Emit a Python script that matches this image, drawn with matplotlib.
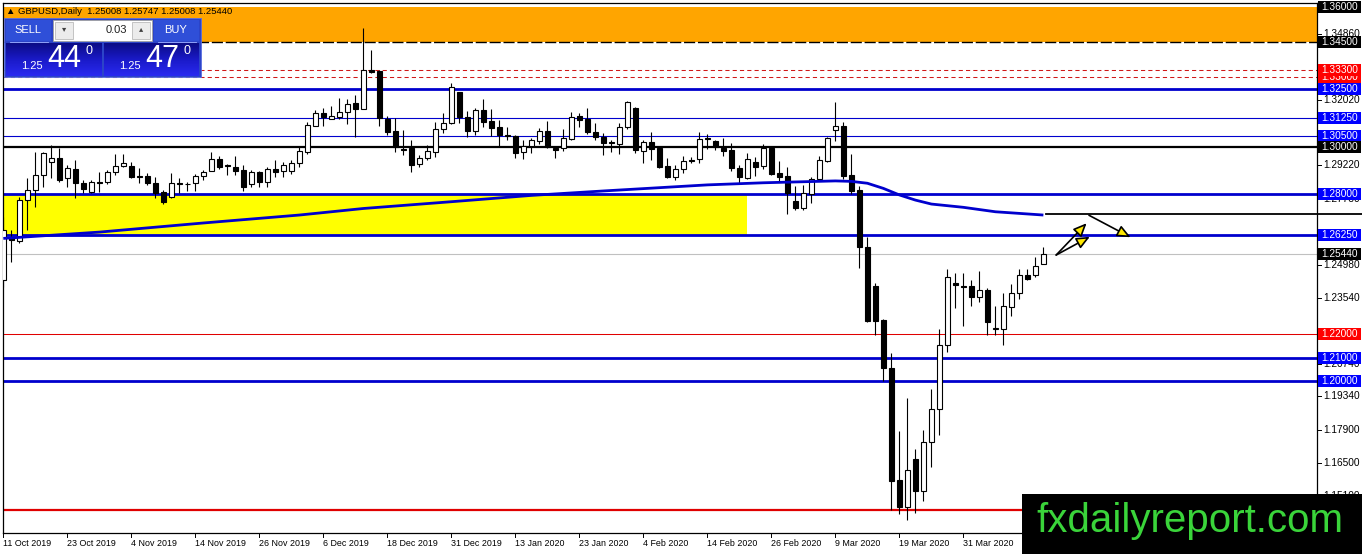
import numpy as np
import matplotlib
matplotlib.use("Agg")
import matplotlib.pyplot as plt
from matplotlib.patches import Rectangle
from matplotlib.colors import LinearSegmentedColormap
import matplotlib.transforms as mtransforms

plt.rcParams['font.family'] = ['Liberation Sans', 'DejaVu Sans']

# daily GBPUSD candles, 11 Oct 2019 .. mid Apr 2020
opens = [1.2432, 1.2618, 1.2597, 1.2774, 1.2817, 1.2881, 1.2937, 1.2954, 1.2868, 1.2907,
         1.2847, 1.2809, 1.2853, 1.2851, 1.2894, 1.2920, 1.2920, 1.2875, 1.2877, 1.2848,
         1.2810, 1.2787, 1.2845, 1.2843, 1.2847, 1.2879, 1.2900, 1.2950, 1.2922, 1.2917,
         1.2903, 1.2841, 1.2893, 1.2853, 1.2909, 1.2900, 1.2900, 1.2933, 1.2981, 1.3092,
         1.3147, 1.3122, 1.3131, 1.3150, 1.3189, 1.3162, 1.3330, 1.3326, 1.3121, 1.3071,
         1.2993, 1.2996, 1.2927, 1.2953, 1.2981, 1.3078, 1.3104, 1.3236, 1.3128, 1.3071,
         1.3159, 1.3112, 1.3088, 1.3054, 1.3048, 1.2978, 1.3005, 1.3028, 1.3070, 1.2995,
         1.2996, 1.3035, 1.3134, 1.3120, 1.3064, 1.3045, 1.3022, 1.3013, 1.3087, 1.3167,
         1.2985, 1.3024, 1.2996, 1.2920, 1.2874, 1.2906, 1.2947, 1.2948, 1.3040, 1.3027,
         1.2996, 1.2988, 1.2910, 1.2870, 1.2936, 1.2920, 1.2995, 1.2888, 1.2877, 1.2770,
         1.2741, 1.2800, 1.2863, 1.2942, 1.3074, 1.3091, 1.2881, 1.2817, 1.2575, 1.2406,
         1.2261, 1.2054, 1.1576, 1.1460, 1.1665, 1.1531, 1.1738, 1.1879, 1.2154, 1.2421,
         1.2407, 1.2406, 1.2361, 1.2389, 1.2224, 1.2221, 1.2318, 1.2375, 1.2453, 1.2455,
         1.25008]
highs = [1.2703, 1.2646, 1.2788, 1.2868, 1.2980, 1.2980, 1.3010, 1.2997, 1.2924, 1.2945,
         1.2860, 1.2860, 1.2894, 1.2903, 1.2971, 1.2971, 1.2937, 1.2911, 1.2891, 1.2874,
         1.2817, 1.2890, 1.2868, 1.2853, 1.2886, 1.2903, 1.2980, 1.2963, 1.2928, 1.2963,
         1.2924, 1.2903, 1.2900, 1.2916, 1.2945, 1.2938, 1.2945, 1.3005, 1.3109, 1.3159,
         1.3167, 1.3176, 1.3211, 1.3205, 1.3224, 1.3510, 1.3416, 1.3330, 1.3134, 1.3124,
         1.3074, 1.3031, 1.2967, 1.3010, 1.3109, 1.3147, 1.3276, 1.3238, 1.3156, 1.3167,
         1.3205, 1.3162, 1.3117, 1.3088, 1.3052, 1.3031, 1.3038, 1.3081, 1.3114, 1.3007,
         1.3077, 1.3150, 1.3148, 1.3167, 1.3105, 1.3062, 1.3031, 1.3102, 1.3199, 1.3171,
         1.3031, 1.3064, 1.3002, 1.2953, 1.2924, 1.2963, 1.2957, 1.3066, 1.3057, 1.3031,
         1.3041, 1.3017, 1.2924, 1.2974, 1.2960, 1.3014, 1.2999, 1.2942, 1.2914, 1.2834,
         1.2838, 1.2871, 1.2963, 1.3045, 1.3194, 1.3107, 1.2971, 1.2834, 1.2617, 1.2421,
         1.2264, 1.2121, 1.1787, 1.1926, 1.1708, 1.1790, 1.1964, 1.2221, 1.2478, 1.2461,
         1.2463, 1.2432, 1.2472, 1.2397, 1.2321, 1.2375, 1.2415, 1.2479, 1.2479, 1.2529,
         1.25747]
lows = [1.2403, 1.2509, 1.2589, 1.2646, 1.2744, 1.2830, 1.2868, 1.2851, 1.2830, 1.2783,
        1.2804, 1.2804, 1.2809, 1.2843, 1.2881, 1.2917, 1.2868, 1.2847, 1.2838, 1.2783,
        1.2757, 1.2782, 1.2804, 1.2814, 1.2814, 1.2860, 1.2900, 1.2907, 1.2880, 1.2881,
        1.2814, 1.2831, 1.2830, 1.2831, 1.2874, 1.2871, 1.2886, 1.2917, 1.2971, 1.3091,
        1.3091, 1.3120, 1.3121, 1.3099, 1.3044, 1.3162, 1.3316, 1.3091, 1.3052, 1.2980,
        1.2967, 1.2894, 1.2914, 1.2945, 1.2960, 1.3061, 1.3100, 1.3104, 1.3045, 1.3052,
        1.3088, 1.3048, 1.3000, 1.3031, 1.2954, 1.2949, 1.2977, 1.3014, 1.2996, 1.2953,
        1.2986, 1.3031, 1.3088, 1.3057, 1.3031, 1.2967, 1.2981, 1.2971, 1.3078, 1.2974,
        1.2934, 1.2945, 1.2910, 1.2868, 1.2860, 1.2889, 1.2934, 1.2934, 1.2991, 1.2988,
        1.2964, 1.2900, 1.2848, 1.2863, 1.2878, 1.2906, 1.2881, 1.2853, 1.2714, 1.2732,
        1.2732, 1.2763, 1.2857, 1.2938, 1.3028, 1.2863, 1.2800, 1.2483, 1.2251, 1.2197,
        1.2001, 1.1448, 1.1431, 1.1405, 1.1437, 1.1488, 1.1631, 1.1769, 1.2125, 1.2311,
        1.2235, 1.2321, 1.2339, 1.2197, 1.2197, 1.2154, 1.2278, 1.2351, 1.2432, 1.2446,
        1.25008]
closes = [1.2646, 1.2605, 1.2774, 1.2817, 1.2881, 1.2975, 1.2954, 1.2860, 1.2911, 1.2847,
          1.2821, 1.2851, 1.2849, 1.2894, 1.2920, 1.2933, 1.2873, 1.2871, 1.2848, 1.2804,
          1.2766, 1.2847, 1.2841, 1.2841, 1.2879, 1.2894, 1.2950, 1.2916, 1.2918, 1.2900,
          1.2830, 1.2893, 1.2853, 1.2907, 1.2895, 1.2924, 1.2933, 1.2984, 1.3095, 1.3147,
          1.3129, 1.3134, 1.3150, 1.3185, 1.3164, 1.3330, 1.3323, 1.3125, 1.3065, 1.3000,
          1.2989, 1.2924, 1.2953, 1.2984, 1.3078, 1.3104, 1.3258, 1.3129, 1.3071, 1.3159,
          1.3109, 1.3081, 1.3052, 1.3050, 1.2976, 1.3006, 1.3031, 1.3071, 1.3000, 1.2990,
          1.3040, 1.3129, 1.3117, 1.3065, 1.3043, 1.3018, 1.3018, 1.3087, 1.3194, 1.2988,
          1.3021, 1.2992, 1.2916, 1.2873, 1.2906, 1.2941, 1.2943, 1.3034, 1.3036, 1.3002,
          1.2985, 1.2912, 1.2871, 1.2950, 1.2917, 1.2995, 1.2886, 1.2874, 1.2804, 1.2740,
          1.2804, 1.2864, 1.2945, 1.3040, 1.3091, 1.2877, 1.2813, 1.2573, 1.2257, 1.2258,
          1.2054, 1.1573, 1.1460, 1.1619, 1.1531, 1.1738, 1.1879, 1.2154, 1.2444, 1.2411,
          1.2403, 1.2361, 1.2389, 1.2254, 1.2226, 1.2321, 1.2375, 1.2453, 1.2436, 1.2492,
          1.25440]

date_labels = ["11 Oct 2019", "23 Oct 2019", "4 Nov 2019", "14 Nov 2019", "26 Nov 2019",
               "6 Dec 2019", "18 Dec 2019", "31 Dec 2019", "13 Jan 2020", "23 Jan 2020",
               "4 Feb 2020", "14 Feb 2020", "26 Feb 2020", "9 Mar 2020", "19 Mar 2020",
               "31 Mar 2020"]
bars_per_label = 8

# moving average at some bars
ma_bars = [0, 12, 25, 37, 45, 56, 66, 75, 88, 95, 104, 106, 108, 110, 112, 114, 116, 120, 124, 130]
ma_values = [1.2610, 1.2637, 1.2676, 1.2710, 1.2738, 1.2767, 1.2794, 1.2813, 1.2839, 1.2848,
             1.2856, 1.2854, 1.2846, 1.2824, 1.2796, 1.2774, 1.2757, 1.2743, 1.2724, 1.2710]

# levels
blue_thick = [1.3250, 1.2800, 1.2625, 1.2100, 1.2000]
blue_thin = [1.3125, 1.3050]
red_dashed = [1.3330, 1.3300]
red_thin = [1.2200]
red_thick = [1.1450]
black_level = [1.3000]
bid_price = 1.25440
orange_zone = (1.3450, 1.3600)
yellow_zone = (1.2625, 1.2800)
yellow_zone_end = 92.9
ray_price = 1.2714
ray_start = 130.3

# visible scale labels (the others sit under the level boxes)
price_ticks = [1.34860, 1.32020, 1.29220, 1.27780, 1.24980, 1.23540, 1.20740,
               1.19340, 1.17900, 1.16500, 1.15100]
box_prices = [1.36000, 1.34500, 1.33000, 1.33300, 1.32500, 1.31250, 1.30500, 1.30000,
              1.28000, 1.26250, 1.25440, 1.22000, 1.21000, 1.20000]
box_colors = ['black', 'black', 'red', 'red', 'blue', 'blue', 'blue', 'black',
              'blue', 'blue', 'black', 'red', 'blue', 'blue']

arrows = [((131.6, 1.2539), (135.4, 1.2675)),
          ((131.6, 1.2539), (135.8, 1.2617)),
          ((135.7, 1.2709), (140.9, 1.2615))]

W, H = 1362, 554
fig = plt.figure(figsize=(W / 100, H / 100), dpi=100)
fig.patch.set_facecolor('white')
ax = fig.add_axes([3 / W, (H - 533) / H, 1314 / W, 530 / H])
ax.set_xlim(-0.04, 164.2)
ax.set_ylim(1.134973, 1.361711)
ax.set_xticks([])
ax.set_yticks([])
for s in ax.spines.values():
    s.set_color('black')
    s.set_linewidth(0.9)

BLUE = '#0000cd'
n = len(opens)
idx = np.arange(n)
o = np.array(opens); h = np.array(highs); l = np.array(lows); c = np.array(closes)

# zones
ax.axhspan(orange_zone[0], orange_zone[1], color='#ffa500', zorder=0, lw=0)
ax.axhline(orange_zone[0], color='black', lw=1.0, dashes=(8, 2), zorder=1)
ax.add_patch(Rectangle((-1, yellow_zone[0]), yellow_zone_end + 1, yellow_zone[1] - yellow_zone[0],
                       color='#ffff00', lw=0, zorder=0))

# horizontal lines
for p in blue_thick:
    ax.axhline(p, color=BLUE, lw=2.0, zorder=1)
for p in blue_thin:
    ax.axhline(p, color=BLUE, lw=0.8, zorder=1)
for p in red_dashed:
    ax.axhline(p, color='#d01818', lw=0.75, dashes=(4, 3), zorder=1)
for p in red_thin:
    ax.axhline(p, color='#e00000', lw=0.75, zorder=1)
for p in red_thick:
    ax.axhline(p, color='#e00000', lw=1.6, zorder=1)
for p in black_level:
    ax.axhline(p, color='black', lw=1.6, zorder=1)
ax.axhline(bid_price, color='#c0c0c0', lw=0.8, zorder=1)

# candles
up = c >= o
ax.vlines(idx, l, h, color='black', lw=0.8, zorder=2)
body_lo = np.minimum(o, c)
body_h = np.maximum(np.abs(c - o), 0.00006)
ax.bar(idx[up], body_h[up], bottom=body_lo[up], width=0.6, color='white',
       edgecolor='black', linewidth=0.8, zorder=3)
ax.bar(idx[~up], body_h[~up], bottom=body_lo[~up], width=0.6, color='black',
       edgecolor='black', linewidth=0.8, zorder=3)

# moving average
ax.plot(ma_bars, ma_values, color=BLUE, lw=2.0, zorder=4, solid_capstyle='butt')

# ray to the right edge
x_fig_right = ax.transData.inverted().transform(fig.transFigure.transform((1, 0)))[0]
ax.plot([ray_start, x_fig_right], [ray_price, ray_price], color='black', lw=1.3,
        clip_on=False, zorder=5)

for start, end in arrows:
    ax.annotate('', xy=end, xytext=start,
                arrowprops=dict(arrowstyle='-|>,head_length=0.8,head_width=0.35',
                                fc='#ffe800', ec='black', lw=1.2, shrinkA=0, shrinkB=0),
                zorder=5)

# price axis
ytr = mtransforms.blended_transform_factory(ax.transAxes, ax.transData)
ppx = (ax.get_ylim()[1] - ax.get_ylim()[0]) / 530.0
for p in price_ticks:
    ax.plot([1.0, 1.0 + 4 / 1314], [p, p], color='black', lw=0.7, transform=ytr, clip_on=False)
    ax.text(1.0 + 6 / 1314, p, f"{p:.5f}", transform=ytr, fontsize=7.3, ha='left',
            va='center', color='black', clip_on=False)
for k, (p, col) in enumerate(zip(box_prices, box_colors)):
    fc = {'black': 'black', 'red': '#ff0000', 'blue': '#0000ff'}[col]
    ax.add_patch(Rectangle((1.0 + 1 / 1314, p - 6 * ppx), 43 / 1314, 12 * ppx, transform=ytr,
                           facecolor=fc, edgecolor='none', clip_on=False, zorder=6 + 2 * k))
    ax.text(1.0 + 4 / 1314, p, f"{p:.5f}", transform=ytr, fontsize=7.3, ha='left',
            va='center', color='white', clip_on=False, zorder=7 + 2 * k)

# date axis
xtr = mtransforms.blended_transform_factory(ax.transData, ax.transAxes)
for k, lab in enumerate(date_labels):
    x = k * bars_per_label
    ax.plot([x, x], [0, -4 / 530], color='black', lw=0.7, transform=xtr, clip_on=False)
    ax.text(x, -10 / 530, lab, transform=xtr, fontsize=6.4, ha='left', va='center',
            clip_on=False)


def px_rect(x, y, w, hh, **kw):
    fig.add_artist(Rectangle((x / W, 1 - (y + hh) / H), w / W, hh / H,
                             transform=fig.transFigure, **kw))


def px_text(x, y, s, **kw):
    fig.text(x / W, 1 - y / H, s, **kw)


# title
px_text(6, 11, "\u25b2 GBPUSD,Daily  1.25008 1.25747 1.25008 1.25440", fontsize=6.8,
        va='center', ha='left', zorder=8)

# one-click trading panel
px_rect(4, 18, 197, 59, facecolor='#2c44c8', edgecolor='#5a6ee0', lw=0.6, zorder=8)
px_rect(6, 20, 45, 21, facecolor='#2f4fd8', edgecolor='none', zorder=9)
px_rect(154, 20, 45, 21, facecolor='#2f4fd8', edgecolor='none', zorder=9)
px_text(28, 30, "SELL", fontsize=8, color='white', ha='center', va='center', zorder=10)
px_text(176, 30, "BUY", fontsize=8, color='white', ha='center', va='center', zorder=10)
px_rect(53, 20, 99, 21, facecolor='white', edgecolor='#a0a0a0', lw=0.6, zorder=9)
px_rect(55, 22, 18, 17, facecolor='#ececec', edgecolor='#b0b0b0', lw=0.5, zorder=10)
px_rect(132, 22, 18, 17, facecolor='#ececec', edgecolor='#b0b0b0', lw=0.5, zorder=10)
px_text(64, 30, "\u25be", fontsize=6, color='#404040', ha='center', va='center', zorder=11)
px_text(141, 30, "\u25b4", fontsize=6, color='#404040', ha='center', va='center', zorder=11)
px_text(127, 30, "0.03", fontsize=8, color='#202020', ha='right', va='center', zorder=11)
fig.add_artist(plt.Line2D([10 / W, 48 / W], [1 - 42 / H, 1 - 42 / H], color='#9fb0ff', lw=0.6,
                          transform=fig.transFigure, zorder=10))
fig.add_artist(plt.Line2D([158 / W, 196 / W], [1 - 42 / H, 1 - 42 / H], color='#9fb0ff', lw=0.6,
                          transform=fig.transFigure, zorder=10))

grad = LinearSegmentedColormap.from_list('g', ['#0c0c86', '#1a1ac8', '#2a2af0'])
for x0 in (6, 104):
    gax = fig.add_axes([x0 / W, 1 - 76 / H, 95 / W, 33 / H], zorder=9)
    gax.imshow(np.linspace(0, 1, 50).reshape(-1, 1), aspect='auto', cmap=grad)
    gax.axis('off')

for x0, big in ((6, "44"), (104, "47")):
    px_text(x0 + 15, 66, "1.25", fontsize=8, color='white', ha='left', va='center', zorder=12)
    px_text(x0 + 41, 59, big, fontsize=22, color='white', ha='left', va='center', zorder=12)
    px_text(x0 + 80, 51, "0", fontsize=9, color='white', ha='left', va='center', zorder=12)

# watermark
px_rect(1022, 494, 340, 60, facecolor='black', edgecolor='none', zorder=13)
px_text(1190, 521, "fxdailyreport.com", fontsize=29, color='#3ad43a', ha='center',
        va='center', zorder=14)

fig.savefig('out.png', dpi=100)
